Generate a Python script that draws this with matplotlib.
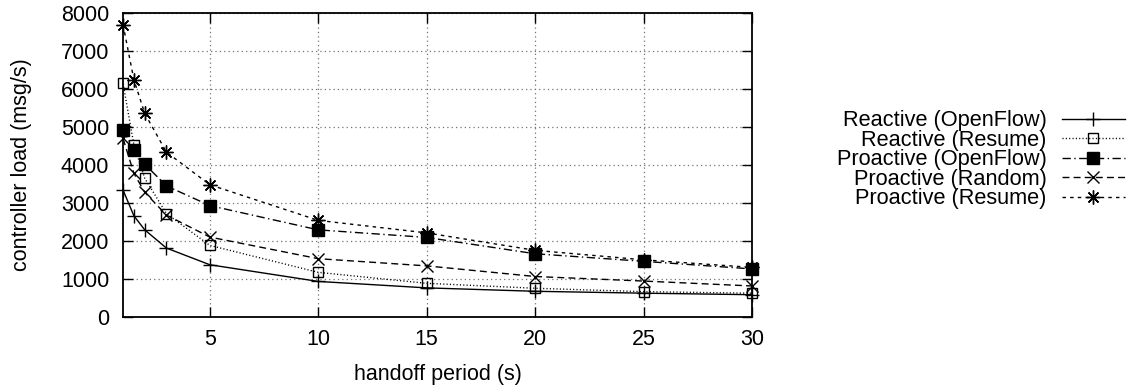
import numpy as np
import matplotlib
matplotlib.use('Agg')
import matplotlib.pyplot as plt

plt.rcParams['font.family'] = ['Liberation Sans', 'DejaVu Sans']
plt.rcParams['font.size'] = 15.5

# handoff period (s)
period = [1, 1.5, 2, 3, 5, 10, 15, 20, 25, 30]

# controller load (msg/s)
reactive_openflow = [3340, 2660, 2290, 1810, 1370, 930, 760, 670, 620, 580]
reactive_resume = [6150, 4530, 3650, 2720, 1880, 1170, 880, 750, 660, 620]
proactive_openflow = [4920, 4400, 4020, 3450, 2930, 2290, 2090, 1660, 1460, 1260]
proactive_random = [4700, 3780, 3280, 2680, 2100, 1530, 1340, 1060, 940, 810]
proactive_resume = [7700, 6250, 5360, 4340, 3480, 2540, 2210, 1750, 1500, 1300]

labels = ['Reactive (OpenFlow)', 'Reactive (Resume)', 'Proactive (OpenFlow)',
          'Proactive (Random)', 'Proactive (Resume)']
xticks = [5, 10, 15, 20, 25, 30]
yticks = [0, 1000, 2000, 3000, 4000, 5000, 6000, 7000, 8000]

fig = plt.figure(figsize=(11.32, 3.92), dpi=100)
ax = fig.add_axes([0.1087, 0.1921, 0.5556, 0.7739])

star = (8, 2, 0)
styles = [
    dict(ls='-', marker='+', ms=10, mew=1.0, mfc='none'),
    dict(ls=(0, (0.8, 1.6)), marker='s', ms=7.5, mew=1.0, mfc='none'),
    dict(ls=(0, (6, 2.5, 1, 2.5)), marker='s', ms=8, mew=1.0, mfc='black'),
    dict(ls=(0, (5, 3)), marker='x', ms=8, mew=1.0, mfc='none'),
    dict(ls=(0, (2.5, 3)), marker=star, ms=10, mew=1.0, mfc='none'),
]
series = [reactive_openflow, reactive_resume, proactive_openflow,
          proactive_random, proactive_resume]

for ys, lab, st in zip(series, labels, styles):
    ax.plot(period, ys, color='black', lw=1.0, mec='black', label=lab,
            clip_on=False, zorder=3, **st)

ax.set_xlim(1, 30)
ax.set_ylim(0, 8000)
ax.set_xticks(xticks)
ax.set_yticks(yticks)
ax.grid(True, color='0.45', ls=(0, (1, 2.5)), lw=0.9)
ax.tick_params(direction='in', length=7.5, width=1.0, top=True, right=True,
               labelsize=15.5)
ax.tick_params(axis='x', pad=9)
ax.tick_params(axis='y', pad=10)
for sp in ax.spines.values():
    sp.set_linewidth(1.3)

ax.set_xlabel('handoff period (s)')
ax.set_ylabel('controller load (msg/s)')
ax.xaxis.set_label_coords(0.5, -0.155)
ax.yaxis.set_label_coords(-0.145, 0.5)

leg = ax.legend(loc='center right', bbox_to_anchor=(0.9938, 0.5926),
                bbox_transform=fig.transFigure, frameon=False,
                markerfirst=False, handlelength=2.9, handletextpad=0.7,
                labelspacing=-0.07, borderpad=0, borderaxespad=0,
                fontsize=15.7)

plt.savefig('out.png', dpi=100)
